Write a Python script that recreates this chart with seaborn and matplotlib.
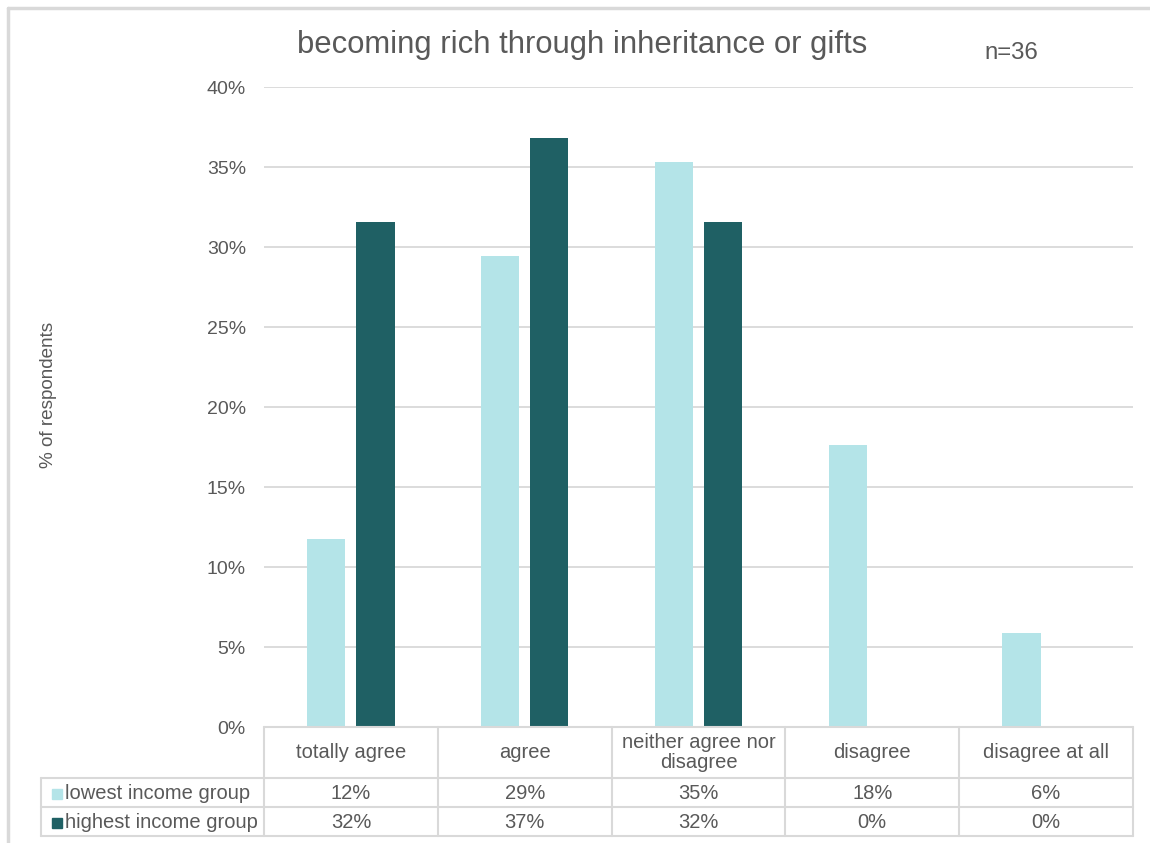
import matplotlib
matplotlib.use("Agg")
import matplotlib.pyplot as plt
import seaborn as sns
import pandas as pd
from matplotlib.lines import Line2D
from matplotlib.patches import Rectangle

# ---- data ----
categories = ["totally agree", "agree", "neither agree nor\ndisagree", "disagree", "disagree at all"]
series_names = ["lowest income group", "highest income group"]
lowest = [11.76, 29.41, 35.29, 17.65, 5.88]
highest = [31.58, 36.84, 31.58, 0.0, 0.0]
lowest_labels = ["12%", "29%", "35%", "18%", "6%"]
highest_labels = ["32%", "37%", "32%", "0%", "0%"]
yticks = [0, 5, 10, 15, 20, 25, 30, 35, 40]
title = "becoming rich through inheritance or gifts"
note = "n=36"
ylabel = "% of respondents"

colors = ["#B4E4E8", "#1F6064"]
TXT = "#595959"
GRID = "#D9D9D9"

sns.set_theme(style="white")
plt.rcParams["font.family"] = ["Liberation Sans", "DejaVu Sans"]

W, H = 1150, 843
fig = plt.figure(figsize=(W / 100, H / 100), dpi=100)

def fx(x):
    return x / W

def fy(y):
    return 1 - y / H

ax_l, ax_r, ax_t, ax_b = 264, 1133, 87, 727
ax = fig.add_axes([fx(ax_l), fy(ax_b), fx(ax_r - ax_l), fy(ax_t) - fy(ax_b)])

df = pd.DataFrame({
    "category": categories * 2,
    "group": [series_names[0]] * 5 + [series_names[1]] * 5,
    "value": lowest + highest,
})
sns.barplot(data=df, x="category", y="value", hue="group", order=categories,
            hue_order=series_names, palette=colors, width=0.565, gap=0.22,
            saturation=1, ax=ax, legend=False, linewidth=0)

ax.set_xlim(-0.5, 4.5)
ax.set_ylim(0, 40)
ax.set_yticks(yticks)
ax.set_yticklabels([f"{v}%" for v in yticks], color=TXT, fontsize=14)
ax.tick_params(axis="y", length=0, pad=13)
ax.set_xticks([])
ax.set_xlabel("")
ax.set_ylabel("")
ax.yaxis.grid(True, color=GRID, linewidth=1.3)
ax.set_axisbelow(True)
for s in ax.spines.values():
    s.set_visible(False)

# figure border (left + top)
fig.add_artist(Line2D([fx(8), fx(8)], [fy(8), 0], color=GRID, lw=2.5, transform=fig.transFigure))
fig.add_artist(Line2D([fx(8), 1], [fy(8), fy(8)], color=GRID, lw=2.5, transform=fig.transFigure))

# title, note, ylabel
fig.text(fx(582), fy(45), title, ha="center", va="center", fontsize=22.3, color=TXT)
fig.text(fx(1011), fy(53), note, ha="center", va="center", fontsize=17.3, color=TXT)
fig.text(fx(49), fy(395), ylabel, ha="center", va="center", rotation=90, fontsize=13.6, color=TXT)

# data table
col_w = (ax_r - ax_l) / len(categories)
rows = [727, 778, 807, 836]
tbl_left = 41

def hline(x0, x1, y):
    fig.add_artist(Line2D([fx(x0), fx(x1)], [fy(y), fy(y)], color=GRID, lw=1.5, transform=fig.transFigure))

def vline(x, y0, y1):
    fig.add_artist(Line2D([fx(x), fx(x)], [fy(y0), fy(y1)], color=GRID, lw=1.5, transform=fig.transFigure))

hline(ax_l, ax_r, rows[0])
for y in rows[1:]:
    hline(tbl_left, ax_r, y)
vline(tbl_left, rows[1], rows[3])
for i in range(len(categories) + 1):
    vline(ax_l + i * col_w, rows[0], rows[3])

FS = 14.5
for i, cat in enumerate(categories):
    cx = ax_l + (i + 0.5) * col_w
    fig.text(fx(cx), fy((rows[0] + rows[1]) / 2), cat, ha="center", va="center",
             fontsize=FS, color=TXT, linespacing=1.05)
    fig.text(fx(cx), fy((rows[1] + rows[2]) / 2 + 1), lowest_labels[i], ha="center",
             va="center", fontsize=FS, color=TXT)
    fig.text(fx(cx), fy((rows[2] + rows[3]) / 2 + 1), highest_labels[i], ha="center",
             va="center", fontsize=FS, color=TXT)

for r, (name, c) in enumerate(zip(series_names, colors)):
    yc = (rows[1 + r] + rows[2 + r]) / 2 + 1
    sq = 10
    fig.add_artist(Rectangle((fx(52), fy(yc + sq / 2)), fx(sq), fy(yc - sq / 2) - fy(yc + sq / 2),
                             color=c, transform=fig.transFigure))
    fig.text(fx(65), fy(yc), name, ha="left", va="center", fontsize=FS, color=TXT)

fig.savefig("out.png", dpi=100)
